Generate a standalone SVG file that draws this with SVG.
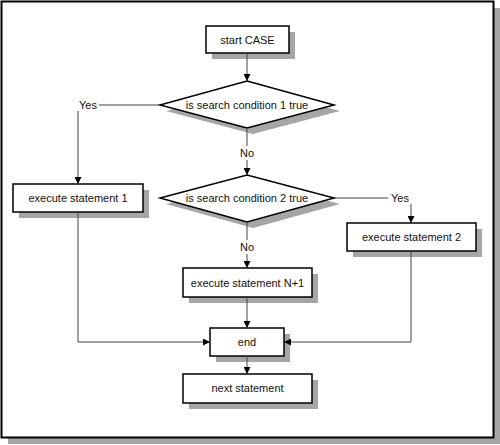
<svg xmlns="http://www.w3.org/2000/svg" width="500" height="445" viewBox="0 0 500 445">
<style>
.sh{fill:#a6a6a6;stroke:none}
.bx{fill:#fff;stroke:#000;stroke-width:1.5}
.t{font-family:"Liberation Sans",Arial,sans-serif;font-size:11px;fill:#111;text-anchor:middle;dominant-baseline:central}
.ln{fill:none;stroke:#444;stroke-width:1}
</style>
<defs>
<marker id="ar" viewBox="0 0 10 10" refX="10" refY="5" markerWidth="7" markerHeight="7" markerUnits="userSpaceOnUse" orient="auto">
<path d="M0,0 L10,5 L0,10 z" fill="#000"/>
</marker>
</defs>
<g id="frame">
<rect x="8" y="8" width="492" height="436" class="sh"/>
<rect x="1.5" y="1.5" width="492" height="436" fill="#fff" stroke="#000" stroke-width="2"/>
</g>
<g id="start">
<rect x="212" y="32" width="83" height="27" class="sh"/>
<rect x="206" y="26" width="83" height="27" class="bx"/>
<text class="t" x="247.5" y="40">start CASE</text>
</g>
<g id="cond1">
<polygon points="253,87 340,111 253,134 166,111" class="sh"/>
<polygon points="247,81 334,105 247,128 160,105" class="bx"/>
<text class="t" x="247" y="105">is search condition 1 true</text>
</g>
<g id="cond2">
<polygon points="253,181 340,204 253,228 166,204" class="sh"/>
<polygon points="247,175 334,198 247,222 160,198" class="bx"/>
<text class="t" x="247" y="198">is search condition 2 true</text>
</g>
<g id="exec1">
<rect x="19" y="190" width="130" height="28" class="sh"/>
<rect x="13" y="184" width="130" height="28" class="bx"/>
<text class="t" x="78" y="198">execute statement 1</text>
</g>
<g id="exec2">
<rect x="353" y="229" width="129" height="28" class="sh"/>
<rect x="347" y="223" width="129" height="28" class="bx"/>
<text class="t" x="411.5" y="237">execute statement 2</text>
</g>
<g id="execN1">
<rect x="189" y="274" width="129" height="29" class="sh"/>
<rect x="183" y="268" width="129" height="29" class="bx"/>
<text class="t" x="247.5" y="283">execute statement N+1</text>
</g>
<g id="end">
<rect x="216" y="334" width="74" height="28" class="sh"/>
<rect x="210" y="328" width="74" height="28" class="bx"/>
<text class="t" x="247" y="342">end</text>
</g>
<g id="next">
<rect x="189" y="380" width="129" height="29" class="sh"/>
<rect x="183" y="374" width="129" height="29" class="bx"/>
<text class="t" x="247.5" y="388">next statement</text>
</g>
<g id="connectors">
<path class="ln" d="M247,53.5 V81" marker-end="url(#ar)"/>
<path class="ln" d="M160,105 H99"/>
<path class="ln" d="M78,111 V184" marker-end="url(#ar)"/>
<path class="ln" d="M247,128.5 V146"/>
<path class="ln" d="M247,160 V175" marker-end="url(#ar)"/>
<path class="ln" d="M334,198 H388"/>
<path class="ln" d="M411,204 V223" marker-end="url(#ar)"/>
<path class="ln" d="M247,222.5 V240"/>
<path class="ln" d="M247,254 V268" marker-end="url(#ar)"/>
<path class="ln" d="M247,297.5 V328" marker-end="url(#ar)"/>
<path class="ln" d="M78,212.5 V342 H210" marker-end="url(#ar)"/>
<path class="ln" d="M411,251.5 V342 H284" marker-end="url(#ar)"/>
<path class="ln" d="M247,356.5 V374" marker-end="url(#ar)"/>
<text class="t" x="88" y="105">Yes</text>
<text class="t" x="247" y="153">No</text>
<text class="t" x="400" y="198">Yes</text>
<text class="t" x="247" y="247">No</text>
</g>
</svg>
